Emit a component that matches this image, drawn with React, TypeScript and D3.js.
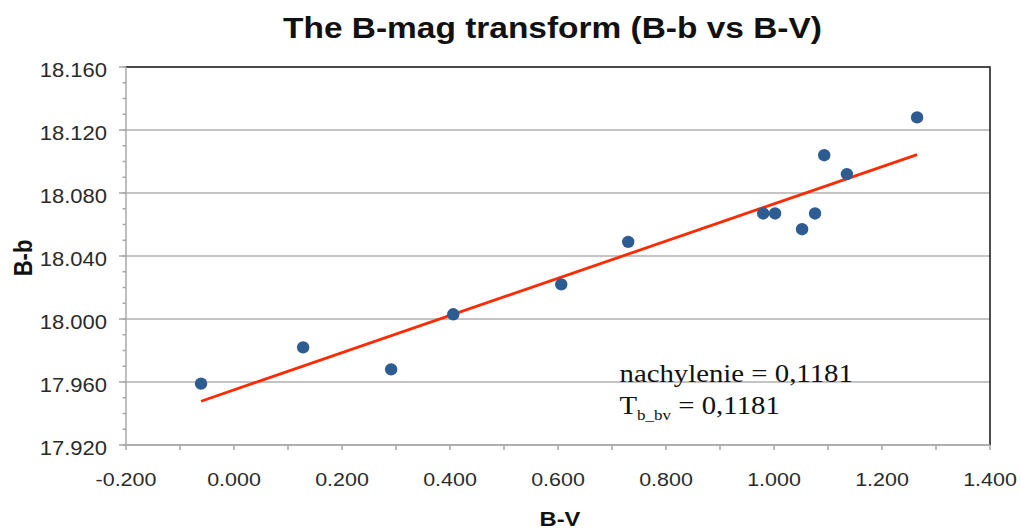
import React, { useEffect, useRef } from 'react';
import * as d3 from 'd3';

// B-V colour index vs B-b
const bvValues = [-0.061, 0.128, 0.291, 0.406, 0.606, 0.730, 0.980, 1.002, 1.052, 1.076, 1.093, 1.135, 1.265];
const bbValues = [17.959, 17.982, 17.968, 18.003, 18.022, 18.049, 18.067, 18.067, 18.057, 18.067, 18.104, 18.092, 18.128];

// linear trend (slope shown in annotation)
const trendSlope = 0.1181;
const trendIntercept = 17.955;

const xTicks = [-0.2, 0, 0.2, 0.4, 0.6, 0.8, 1.0, 1.2, 1.4];
const yTicks = [17.92, 17.96, 18.0, 18.04, 18.08, 18.12, 18.16];

const SANS = 'Liberation Sans, Arial, sans-serif';
const SERIF = 'Liberation Serif, Times New Roman, serif';
const SX = 1.13; // the source picture is stretched sideways

const App = () => {
  const ref = useRef<SVGSVGElement>(null);

  useEffect(() => {
    const svg = d3.select(ref.current);
    svg.selectAll('*').remove();

    const x = d3.scaleLinear().domain([-0.2, 1.4]).range([126, 990]);
    const y = d3.scaleLinear().domain([17.92, 18.16]).range([445, 67]);
    const fmt = (v: number) => d3.format('.3f')(v).replace('\u2212', '-');

    // grid
    svg.append('g')
      .selectAll('line')
      .data(yTicks)
      .join('line')
      .attr('x1', x(-0.2)).attr('x2', x(1.4))
      .attr('y1', d => y(d)).attr('y2', d => y(d))
      .attr('stroke', '#c4c4c4')
      .attr('stroke-width', 1.8);

    // frame top / right
    svg.append('path')
      .attr('d', `M${x(-0.2)},${y(18.16)}H${x(1.4)}V${y(17.92)}`)
      .attr('fill', 'none')
      .attr('stroke', '#222')
      .attr('stroke-width', 1.6);

    // y axis
    const yMinor = d3.range(0, 25).map(i => 17.92 + i * 0.01);
    const ax = svg.append('g').attr('stroke', '#a8a8a8').attr('stroke-width', 1.5);
    ax.append('line').attr('x1', x(-0.2)).attr('x2', x(-0.2)).attr('y1', y(17.92)).attr('y2', y(18.16));
    ax.selectAll('.ym').data(yMinor).join('line').attr('class', 'ym')
      .attr('x1', x(-0.2) - 3.5).attr('x2', x(-0.2))
      .attr('y1', d => y(d)).attr('y2', d => y(d));
    ax.selectAll('.yM').data(yTicks).join('line').attr('class', 'yM')
      .attr('x1', x(-0.2) - 7).attr('x2', x(-0.2))
      .attr('y1', d => y(d)).attr('y2', d => y(d));

    // x axis
    const xMinor = d3.range(0, 17).map(i => -0.2 + i * 0.1);
    ax.append('line').attr('x1', x(-0.2)).attr('x2', x(1.4)).attr('y1', y(17.92)).attr('y2', y(17.92));
    ax.selectAll('.xm').data(xMinor).join('line').attr('class', 'xm')
      .attr('x1', d => x(d)).attr('x2', d => x(d))
      .attr('y1', y(17.92)).attr('y2', y(17.92) + 5);

    // tick labels
    svg.append('g')
      .selectAll('text')
      .data(yTicks)
      .join('text')
      .attr('transform', d => `translate(107,${y(d) + 10.3}) scale(${SX},1)`)
      .attr('text-anchor', 'end')
      .attr('font-family', SANS)
      .attr('font-size', 19.5)
      .attr('fill', '#2a2a2a')
      .text(d => fmt(d));

    svg.append('g')
      .selectAll('text')
      .data(xTicks)
      .join('text')
      .attr('transform', d => `translate(${x(d)},486) scale(${SX},1)`)
      .attr('text-anchor', 'middle')
      .attr('font-family', SANS)
      .attr('font-size', 19)
      .attr('fill', '#2a2a2a')
      .text(d => fmt(d));

    // trend line
    const ext = d3.extent(bvValues) as [number, number];
    const line = d3.line<number>()
      .x(d => x(d))
      .y(d => y(trendIntercept + trendSlope * d));
    svg.append('path')
      .datum(ext)
      .attr('d', line)
      .attr('fill', 'none')
      .attr('stroke', '#ff2a00')
      .attr('stroke-width', 2.8);

    // points
    svg.append('g')
      .selectAll('circle')
      .data(bvValues)
      .join('circle')
      .attr('cx', d => x(d))
      .attr('cy', (d, i) => y(bbValues[i]))
      .attr('r', 6.2)
      .attr('fill', '#2d5c93');

    // title
    svg.append('text')
      .attr('transform', `translate(552.5,38.3) scale(1.115,1)`)
      .attr('text-anchor', 'middle')
      .attr('font-family', SANS)
      .attr('font-weight', 'bold')
      .attr('font-size', 30)
      .attr('fill', '#111')
      .text('The B-mag transform (B-b vs B-V)');

    // axis titles
    svg.append('text')
      .attr('transform', `translate(560,526) scale(${SX},1)`)
      .attr('text-anchor', 'middle')
      .attr('font-family', SANS)
      .attr('font-weight', 'bold')
      .attr('font-size', 21)
      .attr('fill', '#111')
      .text('B-V');

    svg.append('text')
      .attr('transform', `translate(31.5,258) scale(${SX},1) rotate(-90)`)
      .attr('text-anchor', 'middle')
      .attr('font-family', SANS)
      .attr('font-weight', 'bold')
      .attr('font-size', 22)
      .attr('fill', '#111')
      .text('B-b');

    // annotation
    const slopeText = String(trendSlope).replace('.', ',');
    const note = svg.append('g').attr('font-family', SERIF).attr('fill', '#111');
    note.append('text')
      .attr('transform', `translate(619.5,381.7) scale(1.175,1)`)
      .attr('font-size', 24.5)
      .text(`nachylenie = ${slopeText}`);
    const t2 = note.append('text')
      .attr('transform', `translate(619.5,414.3) scale(1.175,1)`)
      .attr('font-size', 24.5);
    t2.append('tspan').text('T');
    t2.append('tspan').attr('font-size', 14.5).attr('dy', 6).text('b_bv');
    t2.append('tspan').attr('dy', -6).text(` = ${slopeText}`);
  }, []);

  return (
    <svg
      ref={ref}
      width={1021}
      height={531}
      style={{ position: 'absolute', left: 0, top: 0, background: '#fff' }}
    />
  );
};

export default App;
